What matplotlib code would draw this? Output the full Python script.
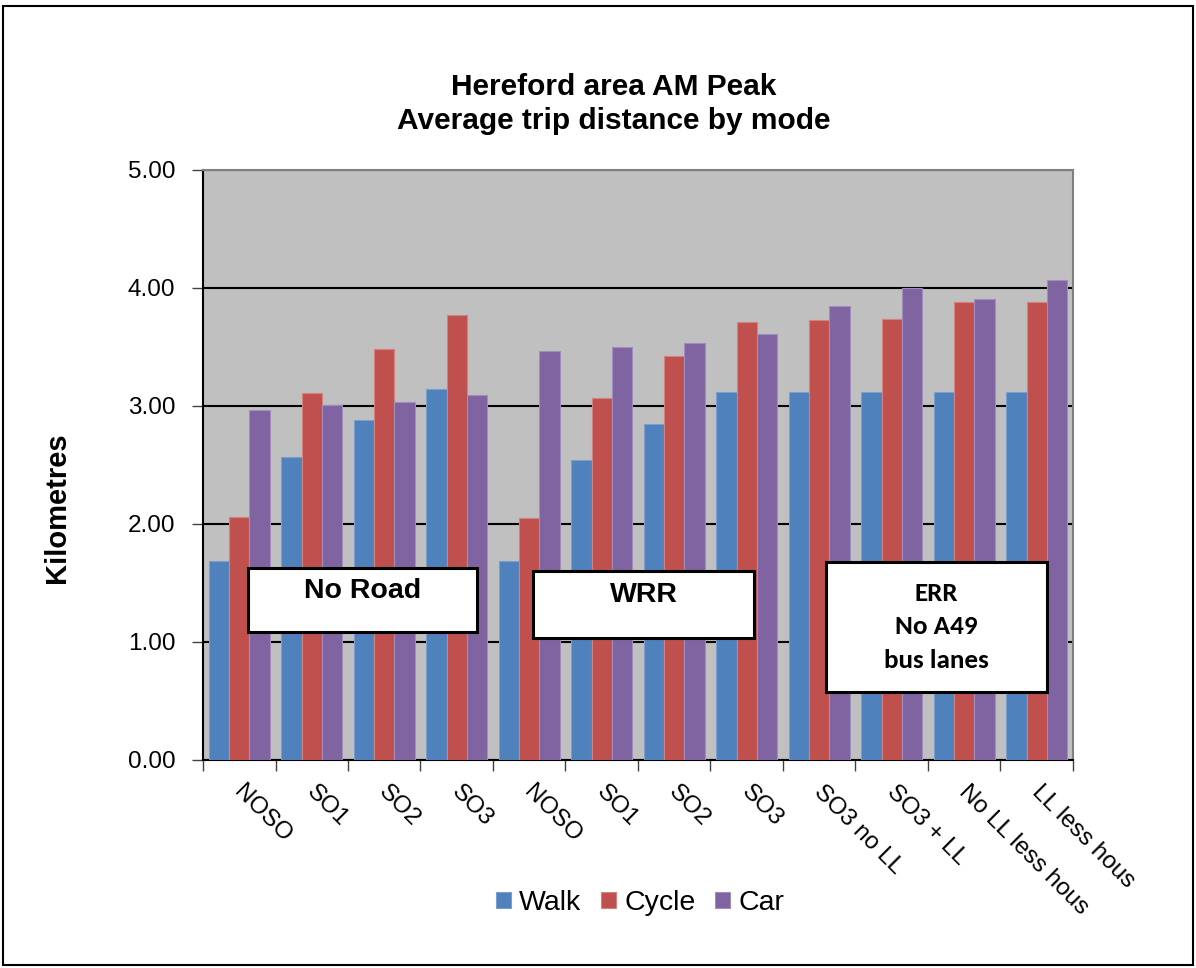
import matplotlib
matplotlib.use("Agg")
import matplotlib.pyplot as plt
import numpy as np
from matplotlib.patches import Rectangle

plt.rcParams['font.family'] = ['Liberation Sans', 'DejaVu Sans']

categories = ["NOSO", "SO1", "SO2", "SO3", "NOSO", "SO1", "SO2", "SO3",
              "SO3 no LL", "SO3 + LL", "No LL less hous", "LL less hous"]
walk = [1.69, 2.57, 2.88, 3.14, 1.69, 2.54, 2.85, 3.12, 3.12, 3.12, 3.12, 3.12]
cycle = [2.06, 3.11, 3.48, 3.77, 2.05, 3.07, 3.42, 3.71, 3.73, 3.74, 3.88, 3.88]
car = [2.97, 3.01, 3.03, 3.09, 3.47, 3.50, 3.53, 3.61, 3.85, 4.00, 3.91, 4.07]
series_names = ["Walk", "Cycle", "Car"]
colors = ["#4F81BD", "#C0504D", "#8064A2"]
edges = ["#7A9FCF", "#D48280", "#A08CBD"]
yticks = [0, 1, 2, 3, 4, 5]

fig = plt.figure(figsize=(11.96, 9.68), dpi=100)
ax = fig.add_axes([203/1196, 1-760/968, (1073-203)/1196, (760-170)/968])
ax.set_facecolor("#C0C0C0")

x = np.arange(len(categories))
w = 0.28
for i, (vals, c, ec, name) in enumerate(zip([walk, cycle, car], colors, edges, series_names)):
    ax.bar(x + (i - 1) * w, vals, width=w, color=c, edgecolor=ec, linewidth=0.8,
           label=name, zorder=3)

ax.set_xlim(-0.5, len(categories) - 0.5)
ax.set_ylim(0, 5)
ax.set_yticks(yticks)
ax.set_yticklabels([f"{v:.2f}" for v in yticks], fontsize=17.5)
ax.yaxis.grid(True, color="black", linewidth=1.5, zorder=1)
ax.set_axisbelow(True)

ax.set_xticks(np.arange(-0.5, len(categories), 1.0))
ax.set_xticklabels([])
ax.tick_params(axis='x', length=8, width=1, color="#404040", direction='out')
ax.tick_params(axis='y', length=8, width=1, color="#404040", direction='out', pad=12)
for i, lab in enumerate(categories):
    ax.text(i + 0.08, -0.18, lab, rotation=-45, rotation_mode='anchor', ha='left', va='top',
            fontsize=17.5, transform=ax.transData, clip_on=False)

for s in ['top', 'right']:
    ax.spines[s].set_color("#808080")
    ax.spines[s].set_linewidth(1.5)
for s in ['left', 'bottom']:
    ax.spines[s].set_color("black")
    ax.spines[s].set_linewidth(1.5)

ax.set_ylabel("Kilometres", fontsize=21, fontweight='bold')
ax.yaxis.set_label_coords(-0.152, 0.428)

fig.text(614/1196, 1-95/968, "Hereford area AM Peak", ha='center', va='baseline',
         fontsize=21.5, fontweight='bold')
fig.text(614/1196, 1-129/968, "Average trip distance by mode", ha='center', va='baseline',
         fontsize=21.5, fontweight='bold')

# annotation boxes
boxes = [
    (0.12, 1.085, 3.28, 1.63),
    (4.05, 1.03, 7.10, 1.60),
    (8.09, 0.58, 11.14, 1.68),
]
box_texts = ["No Road", "WRR", "ERR\nNo A49\nbus lanes"]
text_y = [1.43, 1.40, 1.13]
for (x0, y0, x1, y1), txt, ty in zip(boxes, box_texts, text_y):
    ax.add_patch(Rectangle((x0, y0), x1 - x0, y1 - y0, facecolor="white",
                           edgecolor="black", linewidth=2.2, zorder=5))
    if "\n" in txt:
        ax.text((x0 + x1) / 2, ty, txt, ha='center', va='center', fontsize=19.5,
                fontweight='bold', zorder=6, linespacing=1.55,
                family=['Carlito', 'Lato', 'Liberation Sans'])
    else:
        ax.text((x0 + x1) / 2, ty, txt, ha='center', va='center', fontsize=20.5,
                fontweight='bold', zorder=6)

handles, labels = ax.get_legend_handles_labels()
fig.legend(handles, labels, loc='center', bbox_to_anchor=(640/1196, 1-903/968), ncol=3,
           frameon=False, fontsize=20.5, handlelength=0.53, handleheight=0.5,
           handletextpad=0.28, columnspacing=0.7)

fig.patches.append(Rectangle((3/1196, 3/968), 1-6/1196, 1-9/968, transform=fig.transFigure,
                             fill=False, edgecolor="black", linewidth=1.5))

fig.savefig("out.png", dpi=100, facecolor="white")
